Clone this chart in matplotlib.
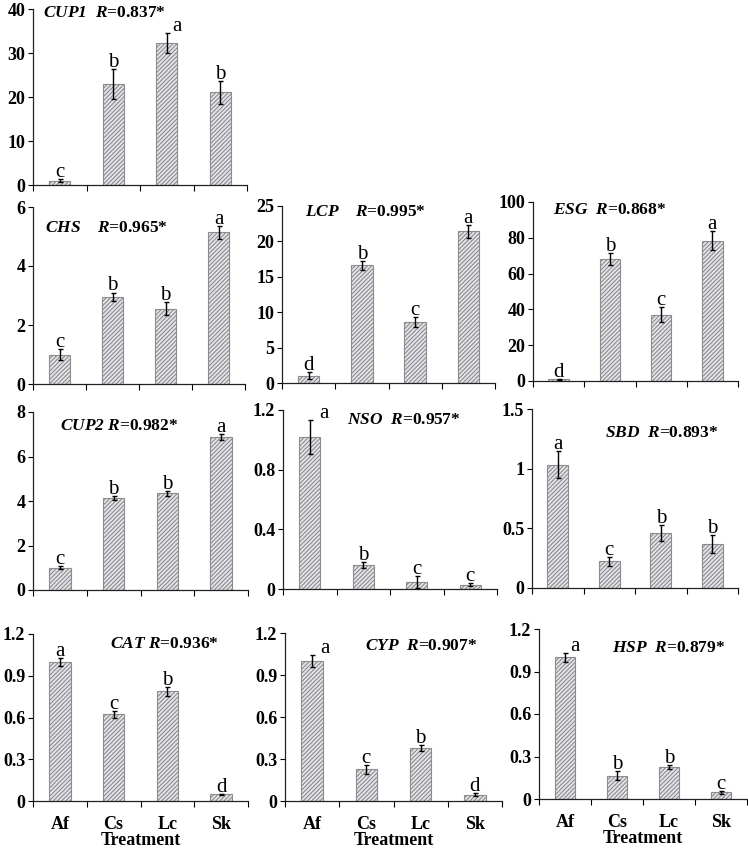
import numpy as np
import matplotlib

matplotlib.use("Agg")
import matplotlib.pyplot as plt  # noqa: E402
from matplotlib.ticker import FuncFormatter, FixedLocator  # noqa: E402

TREATMENTS = ["Af", "Cs", "Lc", "Sk"]

# relative expression, error, significance letters, correlation per gene
CUP1_VAL = [1.0, 22.9, 32.3, 21.1]
CUP1_ERR = [0.3, 3.4, 2.3, 2.6]
CUP1_LET = ["c", "b", "a", "b"]

CHS_VAL = [1.0, 2.95, 2.55, 5.15]
CHS_ERR = [0.17, 0.15, 0.22, 0.22]
CHS_LET = ["c", "b", "b", "a"]

LCP_VAL = [1.0, 16.6, 8.6, 21.4]
LCP_ERR = [0.5, 0.6, 0.7, 0.9]
LCP_LET = ["d", "b", "c", "a"]

ESG_VAL = [1.0, 68.3, 37.1, 78.4]
ESG_ERR = [0.3, 3.4, 4.0, 5.4]
ESG_LET = ["d", "b", "c", "a"]

CUP2_VAL = [1.0, 4.13, 4.34, 6.88]
CUP2_ERR = [0.06, 0.1, 0.12, 0.13]
CUP2_LET = ["c", "b", "b", "a"]

NSO_VAL = [1.018, 0.163, 0.047, 0.027]
NSO_ERR = [0.115, 0.02, 0.038, 0.01]
NSO_LET = ["a", "b", "c", "c"]

SBD_VAL = [1.034, 0.223, 0.46, 0.371]
SBD_ERR = [0.11, 0.04, 0.07, 0.075]
SBD_LET = ["a", "c", "b", "b"]

CAT_VAL = [1.0, 0.622, 0.787, 0.048]
CAT_ERR = [0.03, 0.024, 0.03, 0.005]
CAT_LET = ["a", "c", "b", "d"]

CYP_VAL = [1.0, 0.227, 0.378, 0.045]
CYP_ERR = [0.04, 0.033, 0.022, 0.01]
CYP_LET = ["a", "c", "b", "d"]

HSP_VAL = [1.0, 0.165, 0.226, 0.047]
HSP_ERR = [0.03, 0.03, 0.016, 0.012]
HSP_LET = ["a", "b", "b", "c"]

GENES = ["CUP1", "CHS", "LCP", "ESG", "CUP2", "NSO", "SBD", "CAT", "CYP", "HSP"]
R_VALUES = ["0.837", "0.965", "0.995", "0.868", "0.982", "0.957", "0.893", "0.936", "0.907", "0.879"]
Y_MAX = [40, 6, 25, 100, 8, 1.2, 1.5, 1.2, 1.2, 1.2]
Y_STEP = [10, 2, 5, 20, 2, 0.4, 0.5, 0.3, 0.3, 0.3]

DATA = {
    "CUP1": (CUP1_VAL, CUP1_ERR, CUP1_LET),
    "CHS": (CHS_VAL, CHS_ERR, CHS_LET),
    "LCP": (LCP_VAL, LCP_ERR, LCP_LET),
    "ESG": (ESG_VAL, ESG_ERR, ESG_LET),
    "CUP2": (CUP2_VAL, CUP2_ERR, CUP2_LET),
    "NSO": (NSO_VAL, NSO_ERR, NSO_LET),
    "SBD": (SBD_VAL, SBD_ERR, SBD_LET),
    "CAT": (CAT_VAL, CAT_ERR, CAT_LET),
    "CYP": (CYP_VAL, CYP_ERR, CYP_LET),
    "HSP": (HSP_VAL, HSP_ERR, HSP_LET),
}

# layout in pixels: left, top, right, bottom of the axes; title anchor (axes fraction);
# gap between gene and R; (bar index, dx in points) for a letter nudged right
W, H = 748, 852
LAYOUT = {
    "CUP1": ((33, 9, 247, 185), (0.045, 0.975), "  ", (2, 7)),
    "CHS": ((33, 207, 245, 384), (0.057, 0.884), "    ", (0, 0)),
    "LCP": ((282, 206, 495, 383), (0.108, 0.966), "    ", (0, 0)),
    "ESG": ((533, 202, 738, 381), (0.098, 0.955), "  ", (0, 0)),
    "CUP2": ((33, 412, 248, 590), (0.126, 0.92), " ", (0, 0)),
    "NSO": ((283, 410, 497, 589), (0.30, 0.944), "  ", (0, 10)),
    "SBD": ((532, 409, 738, 588), (0.354, 0.866), "  ", (0, 0)),
    "CAT": ((33, 634, 248, 801), (0.358, 0.94), " ", (0, 0)),
    "CYP": ((285, 633, 502, 801), (0.369, 0.923), "  ", (0, 9)),
    "HSP": ((539, 629, 747, 799), (0.351, 0.89), "  ", (0, 7)),
}
BOTTOM_ROW = {"CAT", "CYP", "HSP"}

plt.rcParams["font.family"] = ["Liberation Serif", "DejaVu Serif"]
plt.rcParams["mathtext.fontset"] = "custom"
plt.rcParams["mathtext.rm"] = "Liberation Serif"
plt.rcParams["mathtext.it"] = "Liberation Serif:italic"
plt.rcParams["mathtext.bf"] = "Liberation Serif:bold"
plt.rcParams["mathtext.bfit"] = "Liberation Serif:italic:bold"
plt.rcParams["hatch.linewidth"] = 0.8
plt.rcParams["hatch.color"] = "#8c8cae"

fig = plt.figure(figsize=(W / 100, H / 100), dpi=100)
x = np.arange(len(TREATMENTS))

for gene, r_val, ymax, ystep in zip(GENES, R_VALUES, Y_MAX, Y_STEP):
    vals, errs, letters = DATA[gene]
    (l, t, r, b), (tx, ty), gap, (nudge_i, nudge_dx) = LAYOUT[gene]
    ax = fig.add_axes([l / W, 1 - b / H, (r - l) / W, (b - t) / H])

    ax.bar(x, vals, width=0.4, facecolor="#e4e4ec", edgecolor="#8c8c8c",
           linewidth=0.8, hatch="////////", zorder=2)
    ax.errorbar(x, vals, yerr=errs, fmt="none", ecolor="black",
                elinewidth=1.0, capsize=1.8, capthick=1.0, zorder=3)

    for i, (v, e, let) in enumerate(zip(vals, errs, letters)):
        dx = nudge_dx if i == nudge_i else 0
        ax.annotate(let, (x[i], v + e), xytext=(dx, 1.5), textcoords="offset points",
                    ha="center", va="baseline", fontsize=15)

    ax.set_xlim(-0.5, 3.5)
    ax.set_ylim(0, ymax)
    ax.yaxis.set_major_locator(FixedLocator(np.arange(0, ymax + ystep / 2, ystep)))
    ax.yaxis.set_major_formatter(FuncFormatter(lambda v, p: f"{v:g}"))
    ax.xaxis.set_major_locator(FixedLocator([-0.5, 0.5, 1.5, 2.5, 3.5]))
    ax.xaxis.set_major_formatter(FuncFormatter(lambda v, p: ""))
    ax.tick_params(axis="x", which="major", direction="out", length=4, width=0.8)
    ax.tick_params(axis="y", direction="out", length=3.5, width=0.8, labelsize=13, pad=2)
    for lab in ax.get_yticklabels():
        lab.set_fontweight("bold")

    if gene in BOTTOM_ROW:
        ax.xaxis.set_minor_locator(FixedLocator(x))
        ax.set_xticks(x, TREATMENTS, minor=True)
        ax.tick_params(axis="x", which="minor", length=0, labelsize=13, pad=11)
        for lab in ax.get_xticklabels(minor=True):
            lab.set_fontweight("bold")
        ax.set_xlabel("Treatment", fontsize=13, fontweight="bold", labelpad=-1)

    for side in ("top", "right"):
        ax.spines[side].set_visible(False)
    for side in ("left", "bottom"):
        ax.spines[side].set_linewidth(0.9)
        ax.spines[side].set_color("#222222")

    ax.text(tx, ty, rf"$\mathbfit{{{gene}}}${gap}$\mathbfit{{R}}$=" + r_val + "*",
            transform=ax.transAxes, ha="left", va="center", fontsize=12.5, fontweight="bold")

fig.savefig("out.png", dpi=100)
